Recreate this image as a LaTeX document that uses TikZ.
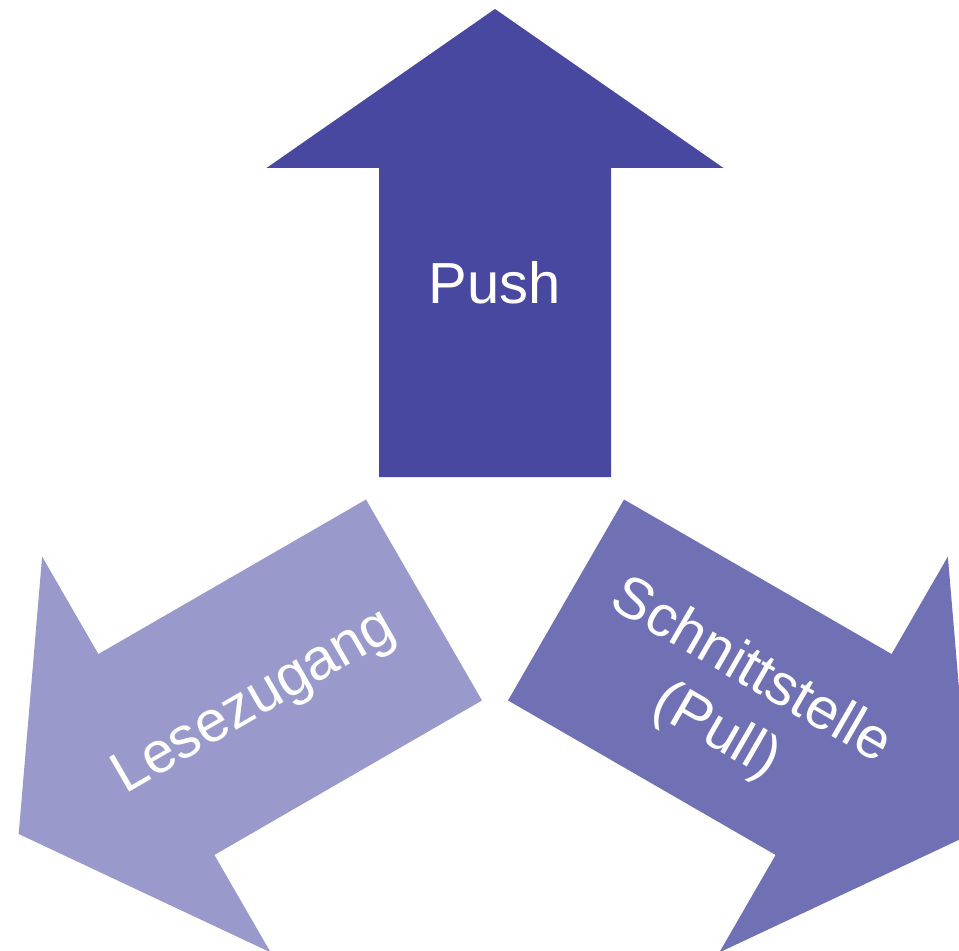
\documentclass[tikz,border=0pt]{standalone}
\usepackage{fontspec}
\setmainfont{Liberation Sans}
\usepackage{xcolor}
\usepackage{tikz}
\definecolor{pushfill}{HTML}{4848A0}
\definecolor{lesefill}{HTML}{9999CB}
\definecolor{pullfill}{HTML}{7070B4}
\tikzset{
  bigarrow/.style={draw=none},
  lab/.style={text=white, align=center, inner sep=0pt, font=\fontsize{33}{39.5}\selectfont},
}

\begin{document}
\begin{tikzpicture}[x=0.02cm, y=0.02cm]
  % frame of the picture, the right arrow runs out of it
  \useasboundingbox (-495,-391) rectangle (464,559);
  \clip (-495,-391) rectangle (464,559);

  % three arrows round the middle, 120 degrees apart
  \foreach \ang/\col in {90/pushfill, 210/lesefill, 330/pullfill}
    \fill[bigarrow, fill=\col, rotate=\ang]
      (82,-116) -- (391,-116) -- (391,-228.5) -- (550,0)
      -- (391,228.5) -- (391,116) -- (82,116) -- cycle;

  % labels
  \node[lab] (push) at (90:276) {Push};
  \node[lab, rotate=30] (lese) at (211:280) {Lesezugang};
  \node[lab, rotate=-30] (pull) at (329:278) {Schnittstelle\\(Pull)};
\end{tikzpicture}
\end{document}
